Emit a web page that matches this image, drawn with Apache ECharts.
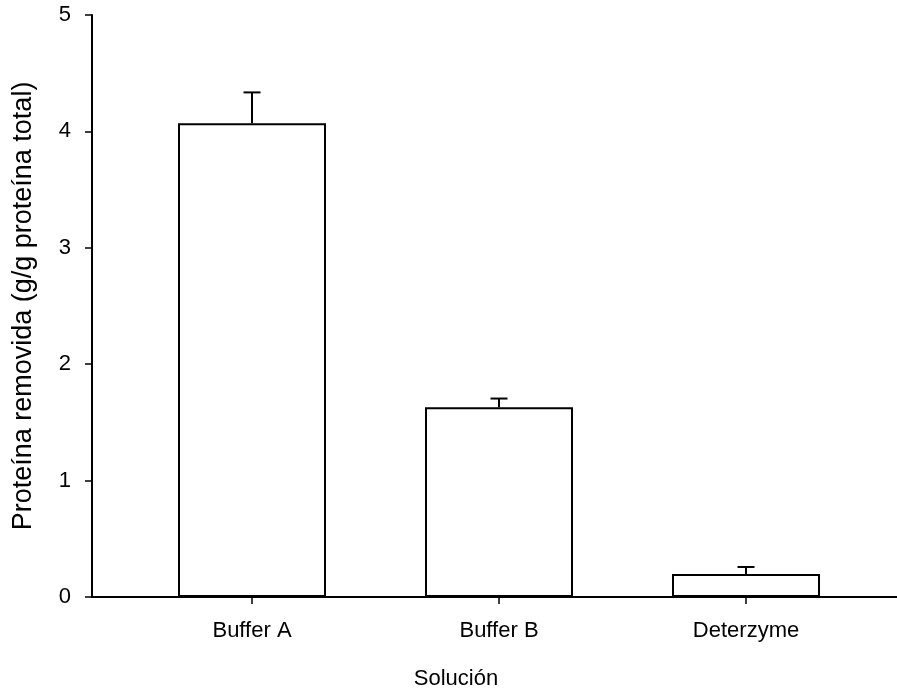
<!DOCTYPE html>
<html><head><meta charset="utf-8">
<script src="https://cdn.jsdelivr.net/npm/echarts@6/dist/echarts.min.js"></script>
<style>html,body{margin:0;padding:0;background:#fff}#c{width:897px;height:690px}</style>
</head><body><div id="c"></div>
<script>
const categories = ['Buffer A', 'Buffer B', 'Deterzyme'];
const positions = [1, 2, 3];
const means = [4.07, 1.63, 0.198];
const errors = [0.265, 0.075, 0.06];
const yTicks = [0, 1, 2, 3, 4, 5];
const xTitle = 'Solución';
const yTitle = 'Proteína removida (g/g proteína total)';

const font = 'Arial, "Liberation Sans", sans-serif';
const chart = echarts.init(document.getElementById('c'), null, {renderer: 'canvas'});
const barData = positions.map((p, i) => [p, means[i]]);
const errData = positions.map((p, i) => [p, means[i], means[i] + errors[i]]);
chart.setOption({
  animation: false,
  grid: {left: 92, right: 0, top: 15, bottom: 93, containLabel: false},
  graphic: [{
    type: 'text', x: 456, y: 679,
    style: {text: xTitle, fontSize: 22, fontFamily: font, fill: '#000',
      align: 'center', verticalAlign: 'middle'}
  }],
  xAxis: [{
    type: 'value', min: 0.3522, max: 3.6113, interval: 1,
    axisLine: {show: true, onZero: false, lineStyle: {color: '#000', width: 2}},
    axisTick: {show: true, length: 7, lineStyle: {color: '#000', width: 1.5}, customValues: positions},
    axisLabel: {fontFamily: font, fontSize: 22, color: '#000', margin: 23, customValues: positions,
      formatter: v => categories[positions.indexOf(Math.round(v))] || ''},
    splitLine: {show: false}
  }, {
    type: 'value', position: 'top', min: 0.3522, max: 3.6113,
    axisLine: {show: true, lineStyle: {color: '#000', width: 2}},
    axisTick: {show: false}, axisLabel: {show: false}, splitLine: {show: false}
  }],
  yAxis: {
    type: 'value', min: 0, max: 5, interval: 1,
    name: yTitle, nameLocation: 'middle', nameGap: 55,
    nameTextStyle: {fontFamily: font, fontSize: 27, color: '#000'},
    axisLine: {show: true, lineStyle: {color: '#000', width: 2}},
    axisTick: {show: true, length: 7, lineStyle: {color: '#000', width: 1.5}},
    axisLabel: {fontFamily: font, fontSize: 22, color: '#000', margin: 21,
      customValues: yTicks},
    splitLine: {show: false}
  },
  series: [{
    type: 'bar', data: barData, barWidth: 148,
    itemStyle: {color: '#fff', borderColor: '#000', borderWidth: 2}
  }, {
    type: 'custom', data: errData, z: 3,
    renderItem: (params, api) => {
      const x = api.value(0);
      const top = api.coord([x, api.value(2)]);
      const base = api.coord([x, api.value(1)]);
      const st = {stroke: '#000', lineWidth: 2};
      return {type: 'group', children: [
        {type: 'line', shape: {x1: top[0], y1: top[1], x2: base[0], y2: base[1]}, style: st},
        {type: 'line', shape: {x1: top[0] - 8.5, y1: top[1], x2: top[0] + 8.5, y2: top[1]}, style: st}
      ]};
    }
  }]
});
</script></body></html>
